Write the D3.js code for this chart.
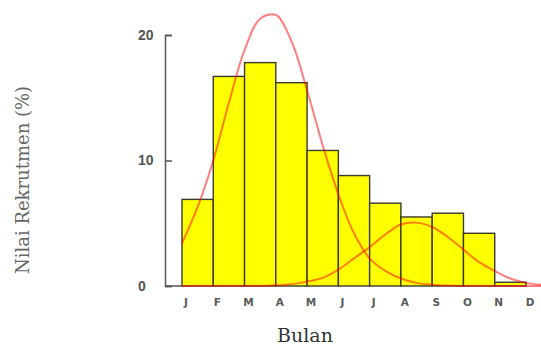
<!DOCTYPE html>
<html>
<head>
<meta charset="utf-8">
<script src="https://cdn.jsdelivr.net/npm/d3@7"></script>
<style>
  body { margin: 0; background: #fff; }
</style>
</head>
<body>
<div id="chart"></div>
<script>
// month labels at the bin edges, bars for J..N
const months = ["J", "F", "M", "A", "M", "J", "J", "A", "S", "O", "N", "D"];
const recruit = [6.9, 16.7, 17.8, 16.2, 10.8, 8.8, 6.6, 5.5, 5.8, 4.2, 0.3];
const yTicks = [0, 10, 20];

// fitted curves, read every half month
const curveSteps = [0, 0.5, 1, 1.5, 2, 2.5, 3, 3.5, 4, 4.5, 5, 5.5, 6, 6.5, 7, 7.5, 8, 8.5, 9, 9.5, 10, 10.5, 11, 11.5];
const cohort1 = [3.4, 6.3, 10.0, 14.6, 18.8, 21.3, 21.6, 19.5, 15.6, 11.2, 7.3, 4.2, 2.2, 1.2, 0.6, 0.25, 0.1, 0.03, 0, 0, 0, 0, 0, 0];
const cohort2 = [0, 0, 0, 0, 0, 0, 0.05, 0.15, 0.35, 0.65, 1.3, 2.2, 3.1, 4.1, 4.9, 5.05, 4.7, 3.9, 2.9, 1.9, 1.2, 0.6, 0.25, 0.1];

const width = 541, height = 347;
const axisX = 165;

const svg = d3.select("#chart")
  .append("svg")
  .attr("width", width)
  .attr("height", height);

// x: months as a continuous position, edges at integers
const x = d3.scaleLinear()
  .domain([0, 11])
  .range([182, 526]);

const y = d3.scaleLinear()
  .domain([0, 20])
  .range([286, 35]);

// y axis, ticks pointing inwards
const yAxis = svg.append("g")
  .attr("transform", `translate(${axisX},0)`)
  .call(d3.axisLeft(y).tickValues(yTicks).tickSize(-7).tickSizeOuter(-7));
yAxis.select(".domain").attr("stroke", "#555").attr("stroke-width", 1.5);
yAxis.selectAll(".tick line").attr("stroke", "#555").attr("stroke-width", 1.5);
yAxis.selectAll(".tick text")
  .attr("text-anchor", "start")
  .attr("x", -27)
  .style("font-family", "'Liberation Sans', Arial, sans-serif")
  .style("font-weight", "bold")
  .style("font-size", "14px")
  .attr("fill", "#555");

// baseline from axis to the first bar
svg.append("line")
  .attr("x1", axisX).attr("x2", x(0))
  .attr("y1", y(0)).attr("y2", y(0))
  .attr("stroke", "#555")
  .attr("stroke-width", 1.5);

// bars
svg.append("g")
  .selectAll("rect")
  .data(recruit)
  .join("rect")
    .attr("x", (d, i) => x(i))
    .attr("y", d => y(d))
    .attr("width", (d, i) => x(i + 1) - x(i))
    .attr("height", d => y(0) - y(d))
    .attr("fill", "#ffff00")
    .attr("stroke", "#3a3a2a")
    .attr("stroke-width", 1.4);

// month labels
svg.append("g")
  .selectAll("text")
  .data(months)
  .join("text")
    .attr("x", (d, i) => x(i) + 4)
    .attr("y", 305.5)
    .attr("text-anchor", "middle")
    .style("font-family", "'DejaVu Sans', sans-serif")
    .style("font-weight", "bold")
    .style("font-size", "10.5px")
    .attr("fill", "#5a5a5a")
    .text(d => d);

// the two fitted cohort curves
const line = d3.line()
  .x((d, i) => x(curveSteps[i]))
  .y(d => y(d))
  .curve(d3.curveCatmullRom);

[cohort1, cohort2].forEach(function(c) {
  svg.append("path")
    .datum(c)
    .attr("d", line)
    .attr("fill", "none")
    .attr("stroke", "#ff0000")
    .attr("stroke-opacity", 0.5)
    .attr("stroke-width", 2);
});

// axis titles
svg.append("text")
  .attr("x", 305)
  .attr("y", 342)
  .attr("text-anchor", "middle")
  .style("font-family", "'DejaVu Serif', serif")
  .style("font-size", "19px")
  .attr("fill", "#333")
  .text("Bulan");

svg.append("text")
  .attr("transform", "translate(29,180) rotate(-90)")
  .attr("text-anchor", "middle")
  .style("font-family", "'DejaVu Serif', serif")
  .style("font-size", "18px")
  .attr("fill", "#666")
  .text("Nilai Rekrutmen (%)");
</script>
</body>
</html>
